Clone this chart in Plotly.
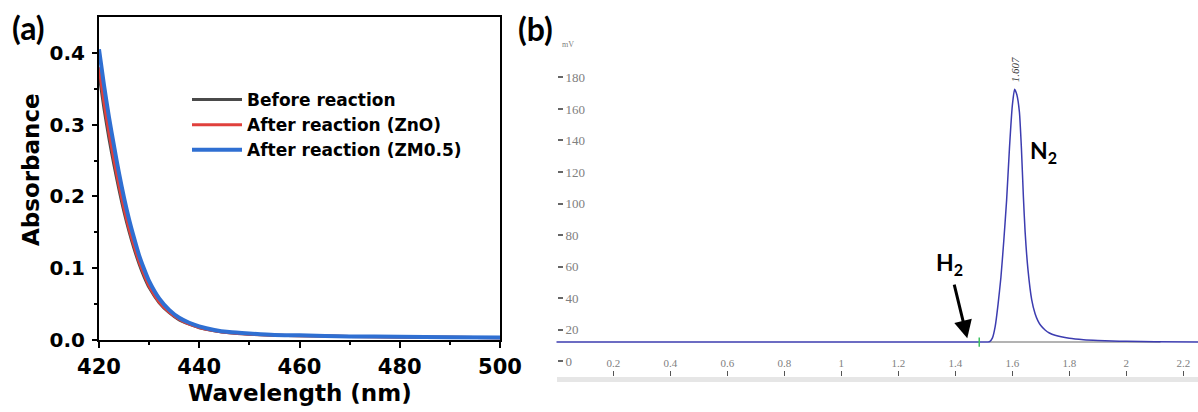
import plotly.graph_objects as go

# ---------------- Panel (a): UV-vis absorbance ----------------
wavelength = [420, 421, 422, 423, 424, 425, 426, 427, 428, 429, 430, 432, 434, 436, 438,
              440, 443, 446, 450, 455, 460, 470, 480, 490, 500]
abs_before = [0.370, 0.322, 0.280, 0.243, 0.209, 0.178, 0.151, 0.127, 0.106, 0.088, 0.073,
              0.052, 0.038, 0.028, 0.022, 0.017, 0.013, 0.010, 0.008, 0.0065, 0.006, 0.005,
              0.0042, 0.0038, 0.0033]
abs_zno = [0.380, 0.331, 0.288, 0.250, 0.215, 0.183, 0.155, 0.131, 0.109, 0.091, 0.075,
           0.053, 0.039, 0.029, 0.022, 0.0175, 0.013, 0.010, 0.008, 0.0065, 0.006, 0.005,
           0.0042, 0.0038, 0.0033]
abs_zm05 = [0.405, 0.355, 0.310, 0.270, 0.232, 0.198, 0.168, 0.142, 0.118, 0.099, 0.082,
            0.058, 0.042, 0.031, 0.024, 0.019, 0.014, 0.011, 0.009, 0.007, 0.0065, 0.005,
            0.0045, 0.004, 0.0035]
series_names = ["Before reaction", "After reaction (ZnO)", "After reaction (ZM0.5)"]

# ---------------- Panel (b): GC chromatogram ----------------
time_min = [0.0, 1.50, 1.52, 1.53, 1.54, 1.55, 1.56, 1.57, 1.58, 1.59, 1.60, 1.608, 1.616,
            1.625, 1.632, 1.639, 1.645, 1.655, 1.668, 1.68, 1.69, 1.70, 1.715, 1.73, 1.75,
            1.80, 1.85, 1.90, 1.95, 2.00, 2.10, 2.26]
signal_mv = [12.0, 12.0, 12.2, 14.5, 22, 36, 53, 76, 102, 135, 162, 172.5, 169,
             158, 135, 104, 82, 58, 39, 30, 25.5, 22.5, 19.7, 17.8, 16.3,
             14.4, 13.5, 13.0, 12.7, 12.5, 12.2, 12.0]
baseline_t = [1.52, 2.12]
baseline_v = [12.0, 12.0]
marker_t = [1.484, 1.484]
marker_v = [9.0, 15.0]
peak_rt = 1.608
peak_label = "1.607"
y2_ticks = [0, 20, 40, 60, 80, 100, 120, 140, 160, 180]
x2_ticks = [0.2, 0.4, 0.6, 0.8, 1, 1.2, 1.4, 1.6, 1.8, 2, 2.2]

W, H = 1198, 412
BOLD = dict(family="DejaVu Sans, Verdana, sans-serif", color="black", weight="bold")
LABEL = dict(family="Lato, Carlito, sans-serif", color="black", weight="bold")
SERIF = dict(family="Liberation Serif, Times New Roman, serif", color="#808080")

fig = go.Figure()

colors = ["#4a4a4a", "#e0403c", "#2f6fd2"]
widths = [3, 3, 4]
for name, ys, c, w in zip(series_names, [abs_before, abs_zno, abs_zm05], colors, widths):
    fig.add_trace(go.Scatter(x=wavelength, y=ys, mode="lines", name=name,
                             line=dict(color=c, width=w, shape="spline", smoothing=0.6),
                             xaxis="x", yaxis="y"))

fig.add_trace(go.Scatter(x=baseline_t, y=baseline_v, mode="lines", showlegend=False,
                         line=dict(color="#9a9a9a", width=1.5), xaxis="x2", yaxis="y2"))
fig.add_trace(go.Scatter(x=time_min, y=signal_mv, mode="lines", showlegend=False,
                         line=dict(color="#3c3cb0", width=1.5, shape="spline", smoothing=0.5),
                         xaxis="x2", yaxis="y2"))
fig.add_trace(go.Scatter(x=marker_t, y=marker_v, mode="lines", showlegend=False,
                         line=dict(color="#3cc060", width=1.5), xaxis="x2", yaxis="y2"))

def ann(text, x, y, font, **kw):
    d = dict(text=text, xref="paper", yref="paper", x=x / W, y=1 - y / H,
             xanchor="center", yanchor="middle", showarrow=False, font=font)
    d.update(kw)
    return d

fig.update_layout(
    width=W, height=H,
    margin=dict(l=0, r=0, t=0, b=0),
    paper_bgcolor="white", plot_bgcolor="white",
    showlegend=True,
    legend=dict(x=187 / W, y=1 - 82 / H, xanchor="left", yanchor="top",
                bgcolor="rgba(0,0,0,0)", font=dict(size=17, **BOLD),
                tracegroupgap=0, itemwidth=50),
    xaxis=dict(domain=[99 / W, 500 / W], range=[420, 500], tickvals=[420, 440, 460, 480, 500],
               ticks="outside", ticklen=6, tickwidth=2, tickcolor="black",
               minor=dict(tickvals=[430, 450, 470, 490], ticks="outside", ticklen=3,
                          tickwidth=2, tickcolor="black"),
               showline=True, linewidth=2, linecolor="black", mirror=True,
               showgrid=False, zeroline=False, tickfont=dict(size=21, **BOLD),
               ticklabelstandoff=1,
               automargin=False, anchor="y", fixedrange=True),
    yaxis=dict(domain=[1 - 340 / H, 1 - 17 / H], range=[0, 0.45],
               tickvals=[0, 0.1, 0.2, 0.3, 0.4], tickformat=".1f",
               ticks="outside", ticklen=5, tickwidth=2, tickcolor="black",
               minor=dict(tickvals=[0.05, 0.15, 0.25, 0.35], ticks="outside", ticklen=3,
                          tickwidth=2, tickcolor="black"),
               showline=True, linewidth=2, linecolor="black", mirror=True,
               showgrid=False, zeroline=False, tickfont=dict(size=20, **BOLD),
               ticklabelstandoff=3,
               automargin=False, anchor="x", fixedrange=True),
    xaxis2=dict(domain=[556.3 / W, 1.0], range=[0, 2.2516], tickvals=x2_ticks,
                ticktext=[str(v) for v in x2_ticks],
                side="top", anchor="free", position=1 - 376 / H,
                ticks="outside", ticklen=5, tickwidth=1, tickcolor="#555",
                showline=False, showgrid=False, zeroline=False,
                tickfont=dict(size=11, **SERIF), automargin=False,
                fixedrange=True),
    yaxis2=dict(domain=[1 - 376 / H, 1 - 40 / H], range=[-9.52, 203.8], tickvals=y2_ticks,
                side="right", anchor="free", position=557 / W,
                ticks="outside", ticklen=5, tickwidth=1.5, tickcolor="#666",
                showline=False, showgrid=False, zeroline=False,
                tickfont=dict(size=13, **SERIF), automargin=False,
                fixedrange=True),
    shapes=[dict(type="rect", xref="paper", yref="paper", x0=557 / W, x1=1.0,
                 y0=1 - 382 / H, y1=1 - 377 / H, fillcolor="#e6e6e6", line=dict(width=0),
                 layer="below")],
    annotations=[
        ann("Absorbance", 31, 170, dict(size=23, **BOLD), textangle=-90),
        ann("Wavelength (nm)", 300, 393, dict(size=23, **BOLD)),
        ann("(a)", 28, 28, dict(size=32, **LABEL)),
        ann("(b)", 535, 29, dict(size=32, **LABEL)),
        ann("mV", 568, 45, dict(size=8, **SERIF)),
        dict(text=peak_label, xref="x2", yref="y2", x=peak_rt, y=185, textangle=-90,
             xanchor="center", yanchor="middle", showarrow=False,
             font=dict(size=11, family="Liberation Serif, serif", color="#333",
                       style="italic")),
        dict(text="N<sub>2</sub>", xref="x2", yref="y2", x=1.71, y=133, showarrow=False,
             xanchor="center", yanchor="middle", font=dict(size=23, **LABEL)),
        dict(text="H<sub>2</sub>", xref="x2", yref="y2", x=1.38, y=62, showarrow=False,
             xanchor="center", yanchor="middle", font=dict(size=23, **LABEL)),
        dict(text="", xref="x2", yref="y2", x=1.442, y=14.4, ax=1.395, ay=49.5,
             axref="x2", ayref="y2", showarrow=True, arrowhead=2, arrowsize=1.2,
             arrowwidth=3, arrowcolor="black"),
    ],
)

fig.write_html("out.html", config={"displayModeBar": False},
               post_script="document.body.style.margin='0px';document.body.style.overflow='hidden';")
